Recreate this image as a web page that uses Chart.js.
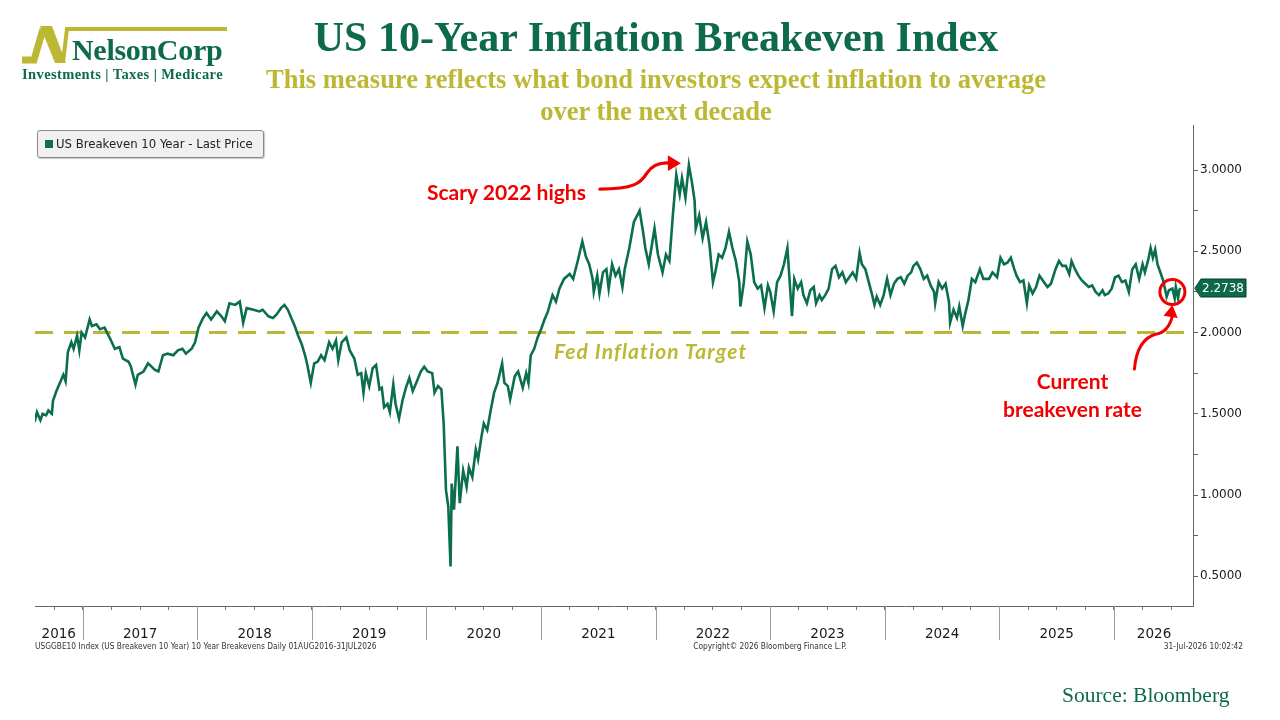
<!DOCTYPE html>
<html>
<head>
<meta charset="utf-8">
<script src="https://cdn.jsdelivr.net/npm/chart.js@4.4.1/dist/chart.umd.min.js"></script>
<style>
  body { margin: 0; width: 1280px; height: 720px; overflow: hidden; background: #fff; position: relative; }
  #chart { position: absolute; left: 0; top: 0; }
  .abs { position: absolute; white-space: nowrap; }
  .serif { font-family: 'Liberation Serif', 'Times New Roman', serif; }
  #title { left: 156px; width: 1000px; top: 13px; text-align: center; font-size: 42px; font-weight: bold; color: #0d6b4a; line-height: 48px; }
  #subtitle { left: 156px; width: 1000px; top: 63px; text-align: center; font-size: 26.5px; font-weight: bold; color: #bdb834; line-height: 32px; }
  #brand { left: 72px; top: 34px; font-size: 30px; font-weight: bold; color: #0d6b4a; line-height: 32px; letter-spacing: -0.3px; }
  #tagline { left: 22px; top: 66px; font-size: 14.5px; font-weight: bold; color: #0d6b4a; letter-spacing: 0.4px; }
  #source { left: 1062px; top: 683px; font-size: 21.5px; color: #0d6b4a; }
  #legend { left: 37px; top: 130px; width: 225px; height: 26px; background: #f0f0f0; border: 1px solid #8a8a8a; border-radius: 3px;
            box-shadow: 1px 1px 1px #c8c8c8; font-family: 'DejaVu Sans Condensed', 'DejaVu Sans', sans-serif; font-size: 13px; color: #222; }
  #legend span.sw { position: absolute; left: 7px; top: 9px; width: 8px; height: 8px; background: #0b6e4f; }
  #legend span.tx { position: absolute; left: 18px; top: 5px; }
  .note { font-family: 'Lato', 'Open Sans', sans-serif; font-weight: bold; color: #f00000; font-size: 21px; }
  #fed { left: 554px; top: 338px; font-family: 'Lato', 'Open Sans', sans-serif; font-weight: bold; font-style: italic; color: #bdb834; font-size: 21px; letter-spacing: 1.1px; }
  .foot { font-family: 'DejaVu Sans Condensed', 'DejaVu Sans', sans-serif; font-size: 8.3px; color: #333; top: 641px; }
</style>
</head>
<body>
<canvas id="chart" width="1280" height="720"></canvas>

<svg class="abs" style="left:0;top:0" width="240" height="70">
  <polyline points="22,60 34,60 43,29" fill="none" stroke="#bdb834" stroke-width="7" stroke-linejoin="miter"/>
  <polygon points="40,26 52,26 66,63 55,63" fill="#bdb834"/>
  <polyline points="63,62 67,29 227,29" fill="none" stroke="#bdb834" stroke-width="4"/>
</svg>
<div id="brand" class="abs serif">NelsonCorp</div>
<div id="tagline" class="abs serif">Investments | Taxes | Medicare</div>

<div id="title" class="abs serif">US 10-Year Inflation Breakeven Index</div>
<div id="subtitle" class="abs serif">This measure reflects what bond investors expect inflation to average<br>over the next decade</div>

<div id="legend" class="abs"><span class="sw"></span><span class="tx">US Breakeven 10 Year - Last Price</span></div>

<div class="abs note" style="left:427px;top:179px">Scary 2022 highs</div>
<div class="abs note" style="left:960px;top:367px;width:225px;text-align:center;line-height:28px">Current<br>breakeven rate</div>
<div id="fed" class="abs">Fed Inflation Target</div>

<div class="abs foot" style="left:35px">USGGBE10 Index (US Breakeven 10 Year) 10 Year Breakevens Daily 01AUG2016-31JUL2026</div>
<div class="abs foot" style="left:620px;width:300px;text-align:center">Copyright&copy; 2026 Bloomberg Finance L.P.</div>
<div class="abs foot" style="left:1093px;width:150px;text-align:right">31-Jul-2026 10:02:42</div>

<div id="source" class="abs serif">Source: Bloomberg</div>

<script>
// decimal year of each reading
const dates = [
  2016.58, 2016.60, 2016.63, 2016.65, 2016.68, 2016.70, 2016.73, 2016.74, 2016.77, 2016.80,
  2016.83, 2016.85, 2016.87, 2016.90, 2016.92, 2016.95, 2016.97, 2016.99, 2017.02, 2017.06,
  2017.08, 2017.12, 2017.15, 2017.19, 2017.24, 2017.28, 2017.32, 2017.35, 2017.40, 2017.42,
  2017.46, 2017.48, 2017.53, 2017.57, 2017.60, 2017.63, 2017.66, 2017.70, 2017.74, 2017.79,
  2017.83, 2017.87, 2017.90, 2017.95, 2017.98, 2018.01, 2018.05, 2018.08, 2018.12, 2018.17,
  2018.21, 2018.24, 2018.28, 2018.33, 2018.37, 2018.40, 2018.43, 2018.49, 2018.54, 2018.57,
  2018.62, 2018.66, 2018.69, 2018.73, 2018.76, 2018.79, 2018.82, 2018.85, 2018.88, 2018.91,
  2018.94, 2018.96, 2018.99, 2019.02, 2019.05, 2019.08, 2019.11, 2019.15, 2019.18, 2019.21,
  2019.23, 2019.26, 2019.30, 2019.33, 2019.37, 2019.40, 2019.43, 2019.45, 2019.47, 2019.50,
  2019.53, 2019.56, 2019.59, 2019.61, 2019.63, 2019.66, 2019.68, 2019.71, 2019.73, 2019.76,
  2019.79, 2019.82, 2019.85, 2019.88, 2019.91, 2019.95, 2019.98, 2020.01, 2020.05, 2020.07,
  2020.10, 2020.13, 2020.15, 2020.17, 2020.19, 2020.21, 2020.22, 2020.24, 2020.27, 2020.29,
  2020.32, 2020.35, 2020.37, 2020.40, 2020.43, 2020.45, 2020.48, 2020.50, 2020.53, 2020.56,
  2020.59, 2020.62, 2020.66, 2020.68, 2020.71, 2020.73, 2020.77, 2020.80, 2020.84, 2020.87,
  2020.89, 2020.91, 2020.94, 2020.97, 2021.00, 2021.03, 2021.06, 2021.10, 2021.13, 2021.16,
  2021.20, 2021.25, 2021.28, 2021.32, 2021.36, 2021.39, 2021.42, 2021.45, 2021.46, 2021.49,
  2021.51, 2021.54, 2021.57, 2021.59, 2021.62, 2021.65, 2021.68, 2021.71, 2021.73, 2021.77,
  2021.81, 2021.86, 2021.89, 2021.91, 2021.94, 2021.99, 2022.02, 2022.06, 2022.09, 2022.12,
  2022.15, 2022.18, 2022.21, 2022.23, 2022.26, 2022.29, 2022.32, 2022.34, 2022.35, 2022.38,
  2022.41, 2022.44, 2022.47, 2022.50, 2022.52, 2022.55, 2022.58, 2022.61, 2022.64, 2022.67,
  2022.70, 2022.73, 2022.74, 2022.77, 2022.80, 2022.83, 2022.86, 2022.89, 2022.92, 2022.95,
  2022.98, 2023.00, 2023.03, 2023.06, 2023.09, 2023.12, 2023.15, 2023.19, 2023.21, 2023.24,
  2023.27, 2023.29, 2023.32, 2023.35, 2023.38, 2023.40, 2023.43, 2023.45, 2023.48, 2023.51,
  2023.54, 2023.57, 2023.60, 2023.63, 2023.66, 2023.69, 2023.72, 2023.75, 2023.78, 2023.80,
  2023.83, 2023.86, 2023.89, 2023.91, 2023.93, 2023.96, 2023.99, 2024.02, 2024.05, 2024.08,
  2024.11, 2024.14, 2024.17, 2024.20, 2024.23, 2024.25, 2024.28, 2024.31, 2024.34, 2024.37,
  2024.40, 2024.43, 2024.44, 2024.47, 2024.50, 2024.53, 2024.56, 2024.57, 2024.60, 2024.63,
  2024.65, 2024.68, 2024.70, 2024.73, 2024.76, 2024.79, 2024.83, 2024.86, 2024.91, 2024.94,
  2024.98, 2025.01, 2025.04, 2025.07, 2025.10, 2025.13, 2025.15, 2025.18, 2025.21, 2025.24,
  2025.26, 2025.29, 2025.32, 2025.35, 2025.39, 2025.42, 2025.45, 2025.49, 2025.52, 2025.55,
  2025.58, 2025.61, 2025.63, 2025.66, 2025.69, 2025.72, 2025.75, 2025.78, 2025.81, 2025.84,
  2025.87, 2025.90, 2025.92, 2025.95, 2025.98, 2026.01, 2026.04, 2026.07, 2026.10, 2026.13,
  2026.16, 2026.19, 2026.22, 2026.25, 2026.27, 2026.30, 2026.32, 2026.34, 2026.36, 2026.38,
  2026.40, 2026.43, 2026.46, 2026.48, 2026.51, 2026.53, 2026.54, 2026.56, 2026.57, 2026.58
];

// breakeven, percent
const values = [
  1.45, 1.51, 1.46, 1.50, 1.49, 1.52, 1.50, 1.58, 1.64, 1.69,
  1.74, 1.70, 1.88, 1.94, 1.90, 1.98, 1.89, 2.00, 1.97, 2.08,
  2.04, 2.05, 2.02, 2.03, 1.96, 1.90, 1.91, 1.84, 1.82, 1.79,
  1.68, 1.74, 1.76, 1.81, 1.79, 1.77, 1.76, 1.86, 1.87, 1.86,
  1.89, 1.90, 1.87, 1.90, 1.94, 2.03, 2.09, 2.12, 2.08, 2.13,
  2.10, 2.07, 2.18, 2.17, 2.19, 2.06, 2.15, 2.14, 2.13, 2.14,
  2.10, 2.09, 2.11, 2.15, 2.17, 2.14, 2.09, 2.04, 1.98, 1.93,
  1.86, 1.80, 1.69, 1.81, 1.82, 1.86, 1.83, 1.94, 1.90, 1.95,
  1.83, 1.94, 1.97, 1.89, 1.84, 1.74, 1.75, 1.63, 1.75, 1.67,
  1.78, 1.80, 1.65, 1.66, 1.54, 1.56, 1.51, 1.68, 1.56, 1.47,
  1.58, 1.66, 1.72, 1.64, 1.69, 1.76, 1.79, 1.76, 1.75, 1.63,
  1.67, 1.65, 1.44, 1.03, 0.93, 0.56, 1.07, 0.91, 1.30, 0.95,
  1.15, 1.05, 1.17, 1.11, 1.28, 1.22, 1.36, 1.44, 1.40, 1.52,
  1.63, 1.69, 1.81, 1.69, 1.67, 1.59, 1.73, 1.76, 1.66, 1.75,
  1.69, 1.86, 1.90, 1.97, 2.02, 2.08, 2.13, 2.23, 2.19, 2.27,
  2.33, 2.36, 2.33, 2.44, 2.56, 2.47, 2.42, 2.33, 2.25, 2.35,
  2.24, 2.37, 2.39, 2.27, 2.42, 2.35, 2.39, 2.28, 2.39, 2.52,
  2.68, 2.75, 2.62, 2.52, 2.42, 2.64, 2.48, 2.37, 2.48, 2.44,
  2.72, 2.97, 2.85, 2.95, 2.83, 3.03, 2.91, 2.81, 2.64, 2.72,
  2.58, 2.68, 2.54, 2.31, 2.37, 2.48, 2.46, 2.52, 2.62, 2.52,
  2.44, 2.31, 2.16, 2.31, 2.56, 2.48, 2.31, 2.27, 2.29, 2.15,
  2.29, 2.25, 2.13, 2.31, 2.35, 2.42, 2.52, 2.10, 2.33, 2.27,
  2.31, 2.23, 2.18, 2.26, 2.28, 2.18, 2.23, 2.20, 2.23, 2.27,
  2.39, 2.41, 2.34, 2.37, 2.31, 2.34, 2.37, 2.33, 2.49, 2.42,
  2.39, 2.31, 2.23, 2.17, 2.22, 2.17, 2.23, 2.33, 2.23, 2.30,
  2.33, 2.34, 2.30, 2.35, 2.37, 2.41, 2.43, 2.39, 2.33, 2.35,
  2.29, 2.25, 2.18, 2.31, 2.27, 2.30, 2.19, 2.06, 2.14, 2.09,
  2.16, 2.04, 2.11, 2.20, 2.33, 2.31, 2.39, 2.33, 2.33, 2.37,
  2.34, 2.46, 2.42, 2.43, 2.46, 2.39, 2.35, 2.31, 2.32, 2.18,
  2.29, 2.24, 2.28, 2.35, 2.31, 2.28, 2.30, 2.39, 2.44, 2.41,
  2.41, 2.36, 2.44, 2.39, 2.35, 2.32, 2.30, 2.28, 2.29, 2.25,
  2.23, 2.26, 2.23, 2.24, 2.27, 2.34, 2.35, 2.31, 2.32, 2.25,
  2.39, 2.42, 2.33, 2.42, 2.37, 2.45, 2.52, 2.46, 2.51, 2.42,
  2.38, 2.32, 2.22, 2.26, 2.27, 2.21, 2.28, 2.21, 2.26, 2.2738
];

const target = 2.0;
const yearLabels = ['2016', '2017', '2018', '2019', '2020', '2021', '2022', '2023', '2024', '2025', '2026'];
const yearLabelAt = [2016.79, 2017.5, 2018.5, 2019.5, 2020.5, 2021.5, 2022.5, 2023.5, 2024.5, 2025.5, 2026.35];
const yearStarts = [2017, 2018, 2019, 2020, 2021, 2022, 2023, 2024, 2025, 2026];
const yTicks = [0.5, 0.75, 1.0, 1.25, 1.5, 1.75, 2.0, 2.25, 2.5, 2.75, 3.0];
const yLabelled = [0.5, 1.0, 1.5, 2.0, 2.5, 3.0];

const xMin = 2016.583, xMax = 2026.69;
const yMin = 0.317, yMax = 3.277;

const green = '#0b6e4f';
const olive = '#bdb834';
const red = '#f00000';

// quarter ticks plus the year label spots
const xTicks = [];
for (let q = 2016.75; q <= 2026.5 + 1e-6; q += 0.25) xTicks.push(Math.round(q * 100) / 100);
yearLabelAt.forEach(v => { if (!xTicks.includes(v)) xTicks.push(v); });
xTicks.sort((a, b) => a - b);

const isQuarter = v => Math.abs(v * 4 - Math.round(v * 4)) < 1e-6;

function arrowHead(ctx, x, y, angle, size) {
    ctx.save();
    ctx.translate(x, y);
    ctx.rotate(angle);
    ctx.beginPath();
    ctx.moveTo(0, 0);
    ctx.lineTo(-size, -size * 0.6);
    ctx.lineTo(-size, size * 0.6);
    ctx.closePath();
    ctx.fill();
    ctx.restore();
}

const overlay = {
    id: 'overlay',
    afterDatasetsDraw(chart) {
        const { ctx, chartArea: a, scales: { x, y } } = chart;
        ctx.save();

        // year separators under the axis
        ctx.strokeStyle = '#9c9c9c';
        ctx.lineWidth = 1;
        yearStarts.forEach(yr => {
            const px = Math.round(x.getPixelForValue(yr)) + 0.5;
            ctx.beginPath();
            ctx.moveTo(px, a.bottom);
            ctx.lineTo(px, a.bottom + 34);
            ctx.stroke();
        });

        // peak arrow
        const pi = values.indexOf(Math.max(...values));
        const peakX = x.getPixelForValue(dates[pi]);
        const peakY = y.getPixelForValue(values[pi]);
        const tipX = peakX - 10, tipY = peakY - 2;
        ctx.strokeStyle = red;
        ctx.fillStyle = red;
        ctx.lineWidth = 3.2;
        ctx.lineCap = 'round';
        ctx.beginPath();
        ctx.moveTo(tipX - 79, tipY + 26);
        ctx.bezierCurveTo(tipX - 45, tipY + 26, tipX - 38, tipY + 20, tipX - 32, tipY + 10);
        ctx.bezierCurveTo(tipX - 26, tipY + 1, tipX - 18, tipY - 1, tipX - 8, tipY);
        ctx.stroke();
        arrowHead(ctx, tipX + 2, tipY, 0, 13);

        // current value circle + arrow
        const n = values.length - 1;
        const lastX = x.getPixelForValue(dates[n]);
        const lastY = y.getPixelForValue(values[n]);
        const cx = lastX - 8, cy = lastY + 4;
        ctx.lineWidth = 3;
        ctx.beginPath();
        ctx.arc(cx, cy, 12.5, 0, Math.PI * 2);
        ctx.stroke();

        ctx.beginPath();
        ctx.moveTo(cx - 38, cy + 77);
        ctx.bezierCurveTo(cx - 36, cy + 55, cx - 28, cy + 45, cx - 16, cy + 42);
        ctx.bezierCurveTo(cx - 6, cy + 40, cx - 2, cy + 32, cx, cy + 24);
        ctx.stroke();
        arrowHead(ctx, cx, cy + 13, -Math.PI / 2 + 0.15, 12);

        // last price tag on the axis
        const tx = a.right + 2, ty = Math.round(lastY);
        ctx.fillStyle = '#0c6a4b';
        ctx.strokeStyle = '#063d2b';
        ctx.lineWidth = 1;
        ctx.beginPath();
        ctx.moveTo(tx, ty);
        ctx.lineTo(tx + 6, ty - 9);
        ctx.lineTo(tx + 51, ty - 9);
        ctx.lineTo(tx + 51, ty + 9);
        ctx.lineTo(tx + 6, ty + 9);
        ctx.closePath();
        ctx.fill();
        ctx.stroke();
        ctx.fillStyle = '#fff';
        ctx.font = '12px "DejaVu Sans"';
        ctx.textBaseline = 'middle';
        ctx.fillText(values[n].toFixed(4), tx + 7, ty + 1);

        ctx.restore();
    }
};

const chart = new Chart(document.getElementById('chart').getContext('2d'), {
    type: 'line',
    data: {
        datasets: [{
            label: 'US Breakeven 10 Year - Last Price',
            data: dates.map((d, i) => ({ x: d, y: values[i] })),
            borderColor: green,
            borderWidth: 2.6,
            pointRadius: 0,
            tension: 0,
            order: 0
        }, {
            label: 'Fed Inflation Target',
            data: [{ x: xMin, y: target }, { x: xMax, y: target }],
            borderColor: olive,
            borderWidth: 3,
            borderDash: [18, 11],
            pointRadius: 0,
            order: 1
        }]
    },
    options: {
        responsive: false,
        animation: false,
        layout: { padding: { left: 35, top: 125, right: 0, bottom: 74 } },
        plugins: { legend: { display: false }, tooltip: { enabled: false } },
        scales: {
            x: {
                type: 'linear',
                min: xMin,
                max: xMax,
                afterBuildTicks: s => { s.ticks = xTicks.map(v => ({ value: v })); },
                afterFit: s => { s.height = 40; },
                ticks: {
                    autoSkip: false,
                    maxRotation: 0,
                    padding: 16,
                    color: '#1a1a1a',
                    font: { family: 'DejaVu Sans', size: 13.5 },
                    callback: v => {
                        const i = yearLabelAt.findIndex(p => Math.abs(p - v) < 1e-6);
                        return i >= 0 ? yearLabels[i] : '';
                    }
                },
                grid: {
                    drawOnChartArea: false,
                    tickLength: 4,
                    color: c => (c.tick && isQuarter(c.tick.value)) ? '#777' : 'rgba(0,0,0,0)'
                },
                border: { color: '#666', width: 1 }
            },
            y: {
                position: 'right',
                min: yMin,
                max: yMax,
                afterBuildTicks: s => { s.ticks = yTicks.map(v => ({ value: v })); },
                afterFit: s => { s.width = 87; },
                ticks: {
                    padding: 2,
                    color: '#1a1a1a',
                    font: { family: 'DejaVu Sans', size: 12 },
                    callback: v => yLabelled.includes(v) ? v.toFixed(4) : ''
                },
                grid: { drawOnChartArea: false, tickLength: 5, color: '#666' },
                border: { color: '#666', width: 1 }
            }
        }
    },
    plugins: [overlay]
});
</script>
</body>
</html>
